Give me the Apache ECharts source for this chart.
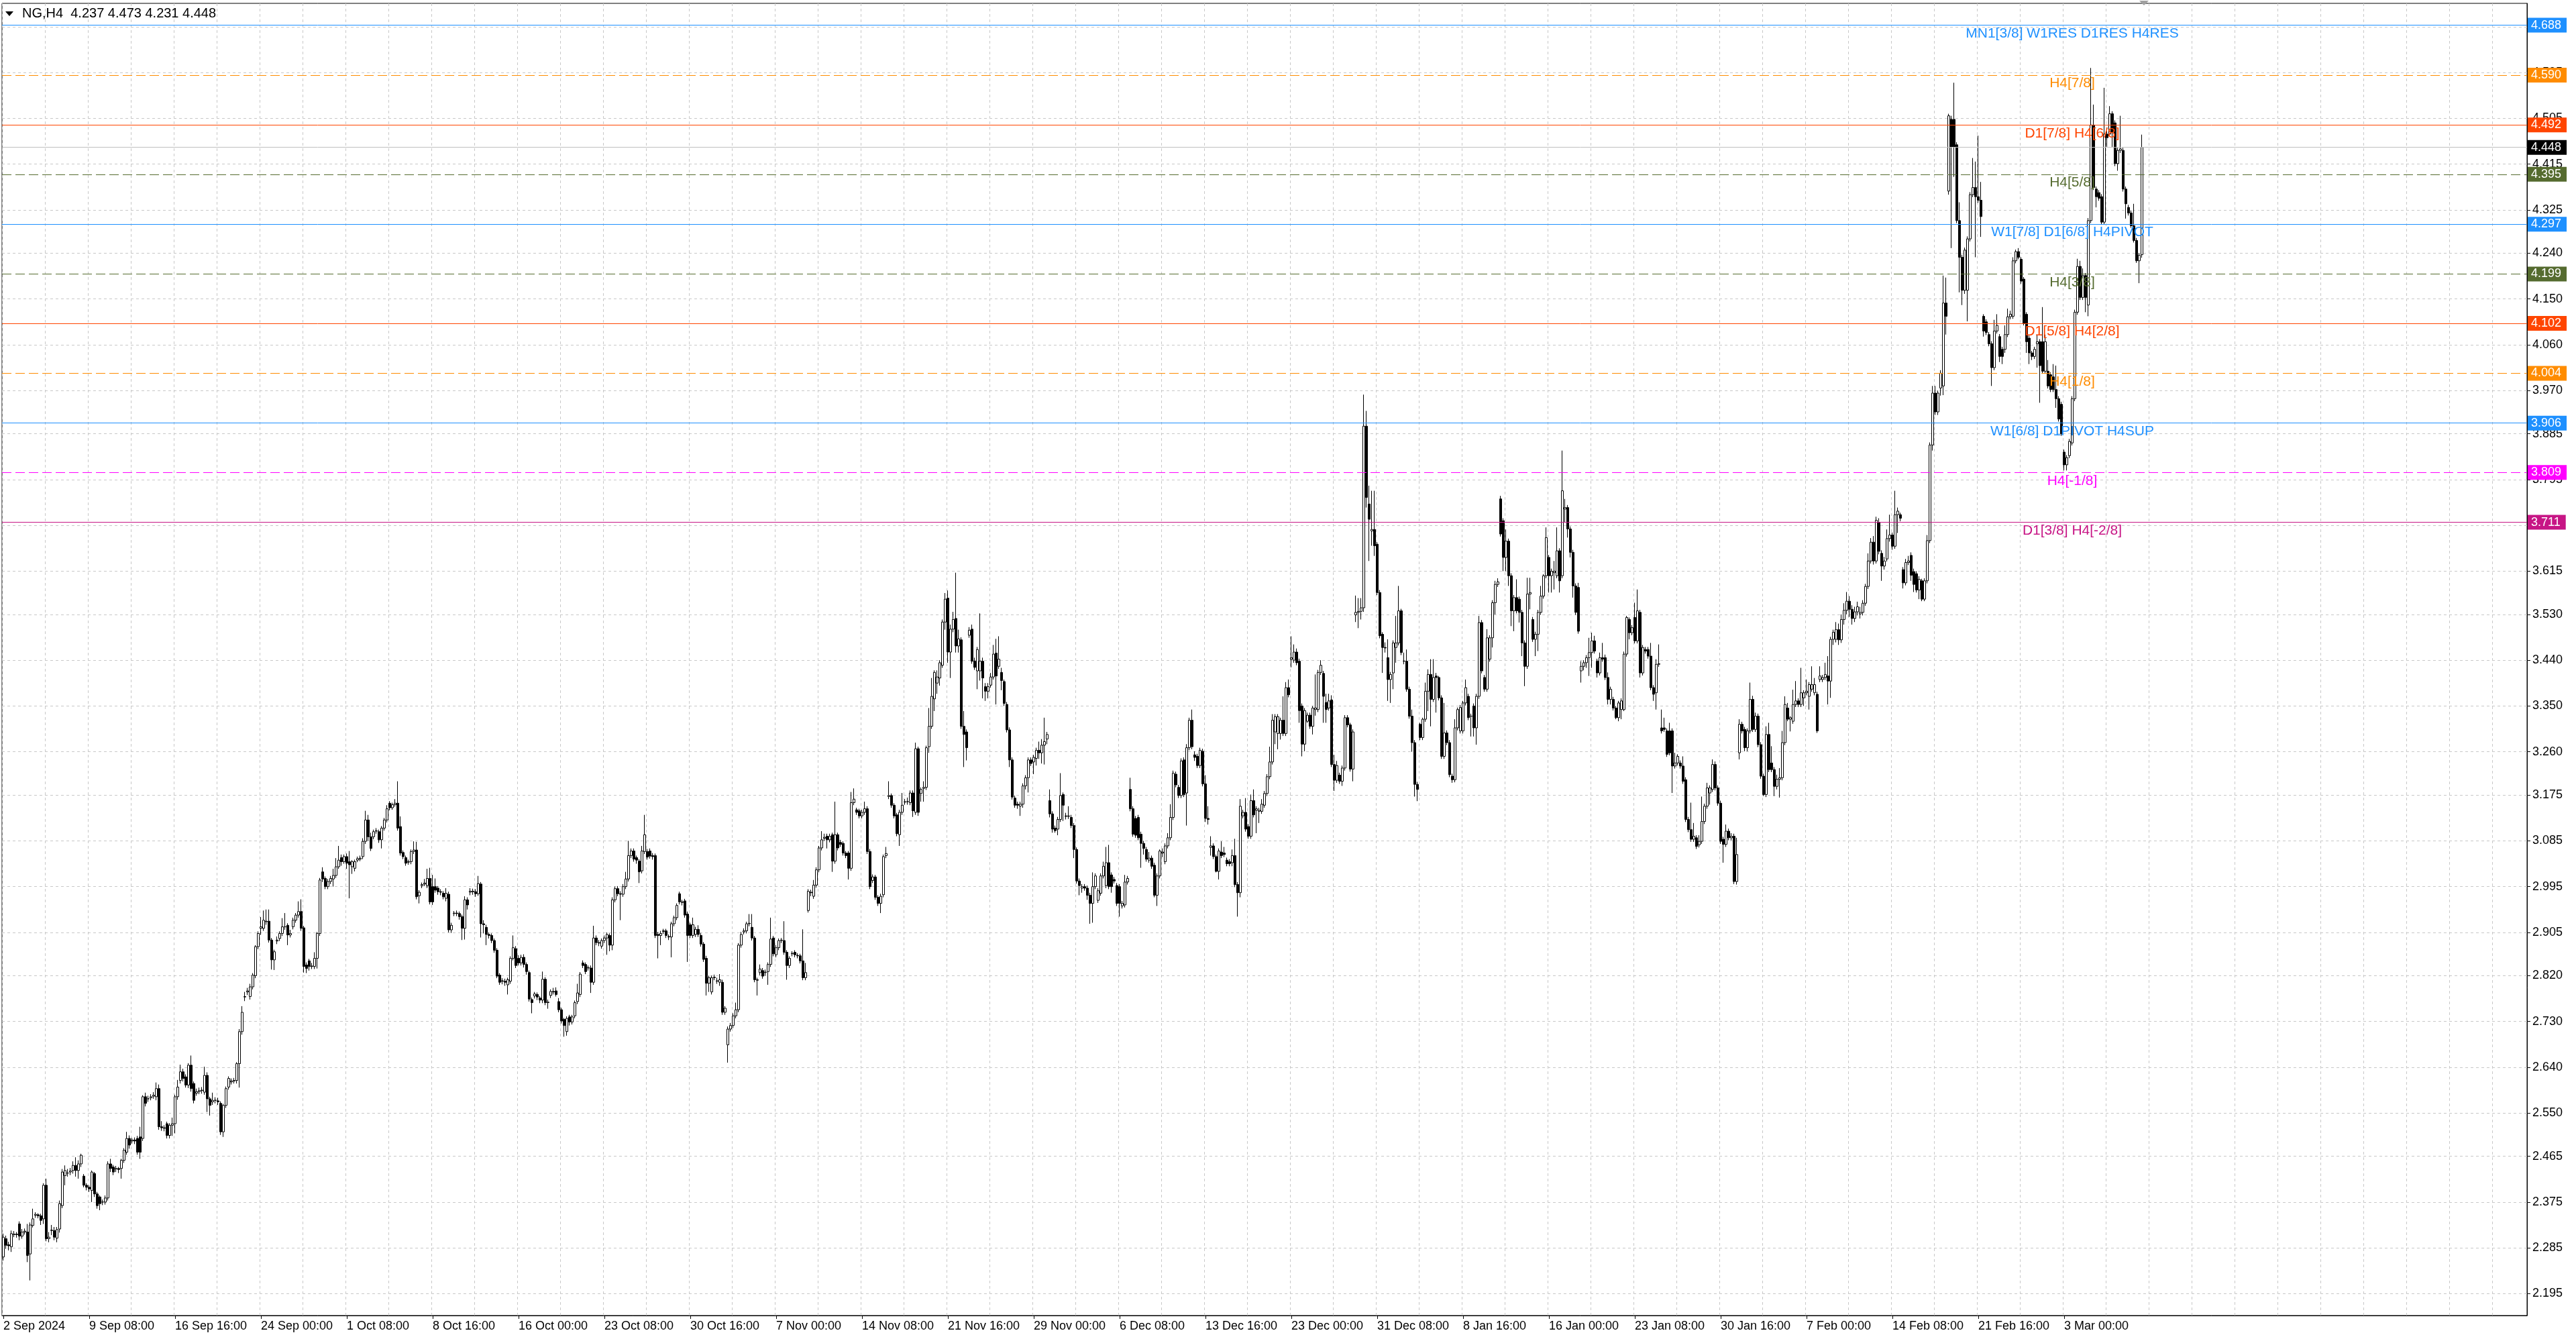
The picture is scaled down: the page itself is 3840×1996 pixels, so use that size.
<!DOCTYPE html>
<html><head><meta charset="utf-8">
<script src="https://cdn.jsdelivr.net/npm/echarts@6/dist/echarts.min.js"></script>
<style>html,body{margin:0;padding:0;background:#fff;overflow:hidden}#c{width:3840px;height:1996px}</style>
</head><body><div id="c"></div>
<script>
const symbolName = 'NG,H4';
const xTickLabels = ['2 Sep 2024','9 Sep 08:00','16 Sep 16:00','24 Sep 00:00','1 Oct 08:00','8 Oct 16:00','16 Oct 00:00','23 Oct 08:00','30 Oct 16:00','7 Nov 00:00','14 Nov 08:00','21 Nov 16:00','29 Nov 00:00','6 Dec 08:00','13 Dec 16:00','23 Dec 00:00','31 Dec 08:00','8 Jan 16:00','16 Jan 00:00','23 Jan 08:00','30 Jan 16:00','7 Feb 00:00','14 Feb 08:00','21 Feb 16:00','3 Mar 00:00'];
const yTickValues = [4.685,4.595,4.505,4.415,4.325,4.240,4.150,4.060,3.970,3.885,3.795,3.705,3.615,3.530,3.440,3.350,3.260,3.175,3.085,2.995,2.905,2.820,2.730,2.640,2.550,2.465,2.375,2.285,2.195];
const levelValues = [4.688,4.590,4.492,4.395,4.297,4.199,4.102,4.004,3.906,3.809,3.711];
const levelNames = ['MN1[3/8] W1RES D1RES H4RES','H4[7/8]','D1[7/8] H4[6/8]','H4[5/8]','W1[7/8] D1[6/8] H4PIVOT','H4[3/8]','D1[5/8] H4[2/8]','H4[1/8]','W1[6/8] D1PIVOT H4SUP','H4[-1/8]','D1[3/8] H4[-2/8]'];
// [open, close, low, high] per H4 bar
const candles = [
[2.267,2.306,2.260,2.313],[2.303,2.290,2.283,2.309],[2.291,2.289,2.280,2.297],[2.287,2.313,2.277,2.319],[2.311,2.312,2.306,2.318],[2.312,2.311,2.305,2.316],[2.332,2.308,2.300,2.337],[2.308,2.316,2.303,2.322],
[2.316,2.318,2.311,2.323],[2.316,2.270,2.257,2.332],[2.273,2.330,2.221,2.335],[2.329,2.342,2.325,2.362],[2.349,2.351,2.344,2.355],[2.350,2.348,2.343,2.353],[2.348,2.339,2.330,2.352],[2.342,2.408,2.332,2.412],
[2.408,2.303,2.298,2.421],[2.303,2.306,2.296,2.316],[2.319,2.320,2.310,2.330],[2.319,2.306,2.300,2.326],[2.304,2.321,2.296,2.326],[2.322,2.372,2.315,2.378],[2.368,2.434,2.363,2.440],[2.427,2.437,2.408,2.447],
[2.432,2.432,2.425,2.440],[2.434,2.436,2.428,2.442],[2.437,2.447,2.431,2.455],[2.447,2.437,2.425,2.463],[2.437,2.450,2.421,2.457],[2.450,2.467,2.444,2.470],[2.426,2.408,2.404,2.430],[2.408,2.404,2.398,2.412],
[2.404,2.401,2.395,2.408],[2.398,2.434,2.375,2.437],[2.431,2.391,2.385,2.434],[2.391,2.368,2.362,2.395],[2.385,2.372,2.359,2.388],[2.375,2.375,2.369,2.380],[2.375,2.383,2.370,2.388],[2.383,2.450,2.378,2.455],
[2.450,2.441,2.434,2.460],[2.444,2.434,2.428,2.448],[2.440,2.441,2.434,2.446],[2.441,2.439,2.432,2.444],[2.441,2.457,2.421,2.460],[2.457,2.477,2.452,2.481],[2.473,2.500,2.468,2.513],[2.500,2.487,2.480,2.506],
[2.495,2.497,2.490,2.501],[2.497,2.495,2.489,2.502],[2.500,2.473,2.468,2.505],[2.503,2.473,2.460,2.523],[2.500,2.582,2.495,2.585],[2.582,2.569,2.563,2.590],[2.578,2.578,2.572,2.584],[2.580,2.582,2.575,2.587],
[2.583,2.585,2.578,2.591],[2.582,2.598,2.575,2.610],[2.598,2.523,2.517,2.606],[2.523,2.521,2.515,2.534],[2.521,2.520,2.514,2.526],[2.529,2.506,2.500,2.533],[2.506,2.526,2.500,2.530],[2.526,2.529,2.505,2.541],
[2.529,2.582,2.510,2.586],[2.582,2.601,2.576,2.615],[2.614,2.631,2.608,2.645],[2.631,2.618,2.612,2.637],[2.621,2.605,2.600,2.626],[2.605,2.644,2.599,2.648],[2.644,2.598,2.592,2.663],[2.608,2.575,2.569,2.612],
[2.589,2.592,2.584,2.598],[2.592,2.594,2.587,2.600],[2.594,2.595,2.588,2.601],[2.591,2.624,2.586,2.641],[2.624,2.578,2.552,2.630],[2.578,2.565,2.545,2.582],[2.572,2.575,2.566,2.590],[2.575,2.575,2.569,2.581],
[2.574,2.572,2.566,2.580],[2.569,2.513,2.507,2.573],[2.513,2.565,2.503,2.568],[2.565,2.598,2.560,2.602],[2.601,2.618,2.596,2.622],[2.611,2.613,2.606,2.618],[2.613,2.614,2.608,2.619],[2.614,2.647,2.608,2.650],
[2.647,2.710,2.600,2.715],[2.710,2.748,2.704,2.760],[2.778,2.779,2.770,2.788],[2.788,2.790,2.782,2.796],[2.779,2.798,2.773,2.804],[2.798,2.821,2.793,2.825],[2.820,2.877,2.815,2.880],[2.877,2.903,2.872,2.907],
[2.913,2.916,2.900,2.935],[2.913,2.929,2.908,2.948],[2.926,2.927,2.920,2.950],[2.927,2.890,2.885,2.950],[2.890,2.851,2.832,2.894],[2.851,2.867,2.831,2.871],[2.888,2.890,2.882,2.897],[2.893,2.903,2.888,2.907],
[2.903,2.916,2.898,2.933],[2.916,2.916,2.910,2.943],[2.919,2.900,2.880,2.923],[2.900,2.903,2.895,2.910],[2.916,2.929,2.911,2.934],[2.929,2.939,2.924,2.943],[2.939,2.946,2.934,2.966],[2.946,2.913,2.908,2.970],
[2.914,2.838,2.826,2.918],[2.841,2.834,2.825,2.846],[2.849,2.838,2.830,2.853],[2.838,2.839,2.833,2.845],[2.838,2.854,2.833,2.866],[2.854,2.903,2.834,2.906],[2.903,3.008,2.898,3.012],[3.024,3.010,3.004,3.033],
[3.011,2.995,2.990,3.015],[2.995,3.005,2.990,3.010],[3.005,3.011,3.000,3.016],[3.010,3.017,2.995,3.030],[3.017,3.034,3.012,3.051],[3.034,3.047,3.030,3.075],[3.052,3.044,3.036,3.058],[3.044,3.054,3.040,3.058],
[3.054,3.041,3.030,3.060],[3.044,3.038,2.972,3.065],[3.034,3.044,3.020,3.047],[3.031,3.044,3.025,3.048],[3.047,3.050,3.043,3.054],[3.049,3.051,3.045,3.056],[3.054,3.084,3.049,3.090],[3.084,3.126,3.079,3.144],
[3.126,3.093,3.085,3.136],[3.093,3.070,3.065,3.101],[3.093,3.103,3.088,3.107],[3.104,3.105,3.099,3.110],[3.103,3.087,3.081,3.107],[3.087,3.110,3.070,3.114],[3.110,3.126,3.105,3.130],[3.126,3.148,3.121,3.155],
[3.159,3.150,3.145,3.163],[3.150,3.156,3.146,3.160],[3.156,3.159,3.152,3.167],[3.159,3.110,3.105,3.202],[3.113,3.061,3.056,3.133],[3.062,3.054,3.049,3.066],[3.052,3.041,3.036,3.056],[3.043,3.044,3.038,3.048],
[3.044,3.064,3.039,3.068],[3.064,3.067,3.059,3.084],[3.067,2.975,2.970,3.083],[2.977,2.984,2.962,2.988],[2.997,2.999,2.992,3.003],[3.000,3.002,2.996,3.010],[2.997,3.011,2.992,3.030],[3.011,2.965,2.960,3.032],
[2.995,2.965,2.959,3.018],[2.995,2.988,2.983,3.011],[2.992,2.985,2.979,2.996],[2.985,2.984,2.978,2.990],[2.982,2.975,2.970,2.986],[2.972,2.982,2.966,2.992],[2.980,2.910,2.905,2.985],[2.910,2.919,2.904,2.924],
[2.942,2.943,2.937,2.947],[2.943,2.942,2.937,2.948],[2.942,2.936,2.930,2.946],[2.936,2.913,2.890,2.940],[2.913,2.969,2.891,2.976],[2.969,2.959,2.950,2.974],
[2.984,2.986,2.978,2.992],[2.986,2.985,2.979,2.991],[2.985,2.981,2.975,2.990],[2.981,3.001,2.977,3.016],[3.000,2.922,2.895,3.004],[2.922,2.920,2.903,2.929],[2.915,2.901,2.880,2.920],[2.901,2.899,2.893,2.905],
[2.899,2.889,2.884,2.903],[2.889,2.870,2.865,2.893],[2.870,2.819,2.815,2.874],[2.821,2.807,2.802,2.825],[2.810,2.809,2.803,2.815],[2.809,2.807,2.800,2.814],[2.802,2.812,2.783,2.816],[2.809,2.854,2.804,2.858],
[2.854,2.875,2.850,2.899],[2.873,2.840,2.835,2.878],[2.854,2.845,2.840,2.860],[2.845,2.856,2.840,2.861],[2.856,2.842,2.836,2.862],[2.842,2.828,2.822,2.846],[2.826,2.774,2.769,2.830],[2.773,2.767,2.746,2.777],
[2.780,2.784,2.775,2.788],[2.783,2.778,2.772,2.787],[2.776,2.772,2.766,2.780],[2.772,2.813,2.766,2.828],[2.813,2.767,2.762,2.817],[2.767,2.768,2.755,2.773],[2.781,2.789,2.776,2.793],[2.789,2.788,2.783,2.796],
[2.790,2.783,2.779,2.797],[2.769,2.753,2.748,2.776],[2.753,2.731,2.726,2.757],[2.734,2.722,2.700,2.737],[2.710,2.736,2.702,2.740],[2.739,2.729,2.722,2.743],[2.729,2.739,2.724,2.743],[2.741,2.767,2.736,2.771],
[2.769,2.786,2.764,2.804],[2.783,2.823,2.778,2.827],[2.845,2.840,2.835,2.850],[2.842,2.828,2.823,2.846],[2.835,2.836,2.830,2.840],[2.835,2.807,2.786,2.840],[2.807,2.894,2.802,2.918],[2.894,2.885,2.880,2.899],
[2.885,2.884,2.878,2.890],[2.878,2.889,2.873,2.893],[2.889,2.894,2.884,2.899],[2.894,2.901,2.861,2.905],[2.899,2.880,2.868,2.903],[2.880,2.969,2.870,2.974],[2.969,2.991,2.964,2.995],[2.991,2.981,2.976,2.996],
[2.981,2.980,2.929,2.986],[2.980,2.995,2.975,3.000],[2.995,3.010,2.990,3.024],[3.010,3.056,3.005,3.085],[3.056,3.065,3.051,3.070],[3.065,3.049,3.044,3.070],[3.052,3.047,3.040,3.056],[3.045,3.024,3.002,3.049],
[3.026,3.065,3.021,3.075],[3.064,3.097,3.059,3.136],[3.064,3.053,3.048,3.069],[3.065,3.055,3.050,3.070],[3.056,3.054,3.048,3.061],[3.056,2.899,2.894,3.060],[2.901,2.899,2.854,2.906],[2.899,2.903,2.880,2.908],
[2.908,2.907,2.902,2.912],[2.908,2.899,2.894,2.912],[2.897,2.896,2.890,2.901],[2.896,2.922,2.856,2.926],[2.922,2.934,2.917,2.938],[2.934,2.958,2.929,2.962],[2.981,2.965,2.960,2.985],[2.965,2.964,2.958,2.969],
[2.967,2.939,2.934,2.971],[2.941,2.899,2.847,2.946],[2.920,2.899,2.894,2.924],[2.899,2.920,2.894,2.934],[2.901,2.911,2.896,2.916],[2.911,2.901,2.896,2.919],[2.899,2.882,2.877,2.904],[2.882,2.852,2.847,2.886],
[2.854,2.805,2.781,2.859],[2.805,2.816,2.788,2.820],[2.788,2.816,2.783,2.820],[2.816,2.817,2.811,2.822],[2.809,2.810,2.804,2.816],[2.807,2.812,2.800,2.823],[2.807,2.748,2.743,2.812],[2.748,2.756,2.743,2.760],
[2.684,2.715,2.649,2.720],[2.715,2.722,2.710,2.727],[2.722,2.741,2.717,2.746],[2.741,2.753,2.736,2.767],[2.753,2.880,2.748,2.884],[2.880,2.901,2.875,2.906],[2.906,2.908,2.901,2.913],[2.908,2.922,2.903,2.926],
[2.922,2.923,2.917,2.941],[2.915,2.894,2.889,2.941],[2.894,2.812,2.807,2.898],[2.812,2.811,2.781,2.816],[2.826,2.833,2.821,2.842],[2.830,2.819,2.814,2.835],[2.826,2.827,2.820,2.832],[2.828,2.842,2.802,2.846],
[2.842,2.892,2.837,2.934],[2.894,2.863,2.858,2.898],[2.861,2.875,2.856,2.880],[2.875,2.889,2.870,2.893],[2.889,2.890,2.884,2.894],[2.889,2.866,2.861,2.927],[2.866,2.840,2.812,2.870],[2.840,2.854,2.835,2.858],
[2.863,2.864,2.858,2.868],[2.866,2.861,2.856,2.870],[2.860,2.859,2.854,2.864],[2.859,2.849,2.844,2.863],[2.849,2.816,2.811,2.911],[2.816,2.826,2.811,2.845],[2.948,2.986,2.944,2.990],[2.984,2.983,2.976,2.989],
[2.976,2.998,2.971,3.008],[2.998,3.028,2.993,3.033],[3.028,3.071,3.023,3.075],[3.071,3.087,3.066,3.104],[3.090,3.092,3.085,3.099],[3.094,3.087,3.070,3.099],[3.087,3.094,3.082,3.099],[3.097,3.045,3.024,3.101],
[3.045,3.097,3.040,3.162],[3.097,3.071,3.066,3.101],[3.082,3.078,3.073,3.087],[3.080,3.061,3.056,3.084],[3.061,3.056,3.051,3.065],[3.061,3.031,3.009,3.065],[3.031,3.160,3.026,3.181],[3.160,3.167,3.155,3.188],
[3.146,3.141,3.136,3.150],[3.144,3.134,3.129,3.148],[3.134,3.141,3.129,3.146],[3.141,3.148,3.136,3.162],[3.148,3.064,3.059,3.153],[3.064,2.995,2.990,3.069],[3.007,3.014,3.002,3.019],[3.014,2.974,2.969,3.018],
[2.974,2.962,2.957,2.978],[2.962,2.976,2.943,2.981],[2.979,3.054,2.974,3.058],[3.056,3.060,3.051,3.073],[3.172,3.174,3.167,3.202],[3.174,3.155,3.150,3.178],[3.155,3.134,3.129,3.159],[3.136,3.099,3.094,3.140],
[3.097,3.141,3.075,3.146],[3.141,3.155,3.136,3.179],[3.161,3.162,3.156,3.167],[3.162,3.162,3.156,3.170],[3.160,3.179,3.155,3.184],[3.179,3.144,3.132,3.184],[3.141,3.266,3.136,3.278],
[3.266,3.141,3.134,3.270],[3.178,3.186,3.162,3.190],[3.188,3.190,3.162,3.202],[3.190,3.268,3.185,3.272],[3.270,3.310,3.258,3.346],[3.310,3.369,3.305,3.405],[3.364,3.416,3.340,3.420],[3.395,3.407,3.374,3.420],
[3.405,3.435,3.390,3.440],[3.430,3.515,3.425,3.520],[3.515,3.560,3.500,3.572],[3.562,3.456,3.435,3.577],[3.456,3.501,3.405,3.510],[3.501,3.520,3.495,3.535],[3.522,3.468,3.455,3.612],[3.468,3.482,3.455,3.500],
[3.480,3.310,3.305,3.485],[3.310,3.294,3.230,3.340],[3.299,3.268,3.243,3.304],[3.489,3.499,3.484,3.505],[3.501,3.438,3.433,3.510],[3.438,3.426,3.421,3.445],[3.419,3.461,3.383,3.466],[3.419,3.438,3.400,3.532],
[3.438,3.405,3.365,3.445],[3.388,3.379,3.360,3.395],[3.379,3.388,3.365,3.395],[3.391,3.407,3.386,3.415],[3.407,3.452,3.402,3.470],[3.454,3.409,3.353,3.482],[3.428,3.442,3.423,3.487],[3.416,3.400,3.381,3.425],
[3.398,3.355,3.350,3.402],[3.353,3.303,3.298,3.358],[3.303,3.244,3.230,3.308],[3.244,3.171,3.166,3.249],[3.169,3.155,3.150,3.174],[3.157,3.155,3.148,3.162],[3.153,3.157,3.134,3.162],[3.157,3.193,3.150,3.198],
[3.193,3.209,3.186,3.214],[3.209,3.244,3.180,3.249],[3.244,3.237,3.232,3.249],[3.240,3.249,3.216,3.254],[3.247,3.263,3.233,3.268],[3.263,3.258,3.246,3.280],[3.258,3.273,3.237,3.285],[3.273,3.280,3.235,3.327],
[3.285,3.294,3.275,3.299],[3.164,3.138,3.131,3.186],[3.138,3.108,3.101,3.143],[3.110,3.105,3.101,3.115],[3.108,3.127,3.096,3.132],[3.127,3.174,3.122,3.218],[3.176,3.155,3.124,3.180],[3.134,3.133,3.127,3.140],
[3.133,3.134,3.128,3.153],[3.131,3.115,3.110,3.136],[3.115,3.068,3.051,3.120],[3.068,3.006,3.001,3.072],[3.006,2.997,2.978,3.011],[2.992,2.995,2.983,3.000],[2.995,2.992,2.987,3.000],[2.992,2.978,2.969,2.997],
[2.978,2.962,2.922,2.983],[2.962,2.995,2.924,3.023],[2.995,3.016,2.990,3.021],[2.968,2.987,2.963,2.992],[2.982,3.016,2.977,3.021],[3.016,3.035,3.011,3.044],[2.997,3.042,2.992,3.073],[3.042,2.995,2.990,3.077],
[3.018,2.995,2.983,3.023],[3.009,3.006,3.001,3.014],[2.997,2.962,2.957,3.002],[2.995,2.962,2.936,3.000],[2.957,2.962,2.952,2.967],[2.959,3.004,2.954,3.018],[3.004,3.011,2.999,3.016],[3.186,3.148,3.143,3.209],
[3.148,3.098,3.093,3.153],[3.129,3.096,3.091,3.134],[3.131,3.091,3.086,3.136],[3.098,3.080,3.032,3.103],[3.080,3.070,3.058,3.085],[3.068,3.049,3.044,3.073],[3.047,3.051,3.042,3.063],[3.051,3.035,3.030,3.056],
[3.037,2.978,2.974,3.042],[2.978,3.016,2.957,3.021],[3.016,3.065,3.011,3.068],[3.061,3.063,3.053,3.070],[3.044,3.075,3.039,3.080],[3.075,3.091,3.070,3.100],[3.091,3.131,3.086,3.157],[3.131,3.218,3.126,3.223],
[3.216,3.195,3.190,3.221],[3.190,3.174,3.169,3.195],[3.174,3.242,3.169,3.247],[3.244,3.176,3.171,3.249],[3.179,3.268,3.115,3.275],[3.268,3.322,3.263,3.327],[3.322,3.270,3.265,3.343],[3.254,3.249,3.242,3.261],
[3.251,3.233,3.228,3.256],[3.233,3.263,3.228,3.268],[3.261,3.197,3.192,3.266],[3.197,3.129,3.122,3.214],[3.129,3.127,3.117,3.153],[3.072,3.075,3.056,3.094],[3.075,3.054,3.049,3.080],[3.054,3.025,3.023,3.058],
[3.025,3.065,3.009,3.070],[3.063,3.056,3.051,3.084],[3.061,3.058,3.053,3.073],[3.047,3.040,3.035,3.052],[3.044,3.040,3.035,3.049],[3.042,3.056,3.035,3.068],[3.056,2.999,2.994,3.089],[2.999,2.983,2.936,3.004],
[2.983,3.153,2.974,3.167],[3.134,3.141,3.129,3.146],[3.141,3.108,3.103,3.169],[3.113,3.094,3.089,3.118],[3.094,3.164,3.089,3.176],[3.164,3.136,3.131,3.186],[3.145,3.148,3.100,3.153],[3.143,3.145,3.120,3.150],
[3.143,3.157,3.138,3.167],[3.155,3.178,3.150,3.183],[3.178,3.211,3.173,3.216],[3.211,3.240,3.206,3.270],[3.240,3.322,3.235,3.334],[3.299,3.329,3.275,3.334],[3.296,3.329,3.265,3.334],[3.296,3.322,3.284,3.327],
[3.322,3.296,3.291,3.369],[3.296,3.386,3.291,3.397],[3.386,3.372,3.367,3.402],[3.442,3.445,3.426,3.487],[3.440,3.456,3.435,3.471],[3.456,3.435,3.430,3.463],[3.438,3.341,3.317,3.443],[3.350,3.275,3.251,3.355],
[3.275,3.341,3.261,3.346],[3.320,3.332,3.317,3.337],[3.332,3.310,3.305,3.337],[3.310,3.346,3.294,3.350],[3.343,3.346,3.331,3.412],[3.343,3.416,3.338,3.421],[3.416,3.430,3.411,3.440],[3.414,3.369,3.317,3.419],
[3.357,3.343,3.317,3.374],[3.346,3.360,3.341,3.374],[3.362,3.235,3.230,3.371],[3.235,3.204,3.183,3.254],[3.204,3.233,3.199,3.242],[3.214,3.202,3.197,3.219],[3.202,3.228,3.193,3.233],[3.228,3.327,3.223,3.332],
[3.327,3.313,3.308,3.332],[3.313,3.226,3.221,3.317],[3.226,3.299,3.202,3.304],[3.529,3.534,3.515,3.567],[3.534,3.536,3.503,3.562],[3.536,3.543,3.520,3.562],[3.543,3.900,3.535,3.962],[3.900,3.760,3.740,3.930],
[3.747,3.717,3.635,3.783],[3.694,3.697,3.665,3.773],[3.697,3.665,3.645,3.773],[3.668,3.573,3.568,3.672],
[3.573,3.488,3.483,3.578],[3.491,3.465,3.415,3.495],[3.465,3.464,3.455,3.475],[3.445,3.402,3.360,3.481],[3.402,3.412,3.356,3.417],[3.415,3.474,3.383,3.479],[3.465,3.474,3.435,3.527],[3.474,3.537,3.469,3.586],
[3.537,3.455,3.450,3.541],[3.438,3.438,3.432,3.455],[3.438,3.383,3.378,3.461],[3.383,3.330,3.325,3.388],[3.330,3.278,3.260,3.343],[3.278,3.196,3.172,3.283],[3.196,3.186,3.163,3.201],[3.314,3.288,3.283,3.317],
[3.288,3.324,3.283,3.327],[3.324,3.379,3.319,3.396],[3.379,3.412,3.340,3.422],[3.412,3.363,3.310,3.442],[3.363,3.406,3.358,3.442],[3.409,3.406,3.337,3.415],[3.406,3.366,3.361,3.409],[3.366,3.251,3.246,3.371],
[3.251,3.297,3.246,3.356],[3.297,3.278,3.273,3.302],[3.278,3.215,3.210,3.283],[3.212,3.205,3.199,3.217],[3.205,3.307,3.200,3.324],[3.307,3.343,3.302,3.347],[3.301,3.347,3.296,3.352],[3.301,3.356,3.296,3.360],
[3.356,3.386,3.351,3.402],[3.369,3.327,3.322,3.374],[3.330,3.330,3.290,3.335],[3.350,3.307,3.290,3.355],[3.307,3.369,3.274,3.374],[3.369,3.514,3.364,3.527],[3.514,3.419,3.414,3.519],[3.406,3.383,3.378,3.411],
[3.383,3.484,3.378,3.501],[3.442,3.484,3.437,3.489],[3.484,3.553,3.465,3.558],[3.553,3.589,3.530,3.596],[3.589,3.594,3.584,3.601],[3.757,3.688,3.683,3.763],[3.714,3.642,3.615,3.719],[3.642,3.674,3.615,3.697],
[3.674,3.606,3.586,3.679],[3.606,3.537,3.507,3.611],[3.537,3.563,3.497,3.568],[3.563,3.537,3.532,3.599],[3.560,3.534,3.514,3.565],[3.534,3.474,3.448,3.539],[3.474,3.428,3.389,3.479],[3.428,3.570,3.423,3.602],
[3.570,3.573,3.540,3.602],[3.520,3.481,3.476,3.525],[3.481,3.491,3.448,3.496],[3.491,3.534,3.458,3.539],[3.534,3.566,3.529,3.586],[3.566,3.606,3.561,3.609],[3.606,3.681,3.601,3.701],[3.642,3.606,3.573,3.647],
[3.606,3.615,3.573,3.620],[3.612,3.615,3.579,3.635],[3.606,3.655,3.601,3.701],[3.655,3.596,3.573,3.660],[3.606,3.773,3.601,3.852],[3.737,3.740,3.711,3.757],[3.740,3.698,3.681,3.745],[3.698,3.652,3.642,3.703],
[3.652,3.586,3.563,3.657],[3.586,3.534,3.529,3.591],[3.583,3.497,3.492,3.592],[3.419,3.428,3.396,3.438],[3.428,3.435,3.420,3.440],[3.435,3.445,3.425,3.450],[3.445,3.455,3.409,3.484],[3.455,3.478,3.425,3.494],
[3.478,3.458,3.453,3.488],[3.438,3.415,3.406,3.443],[3.415,3.445,3.410,3.455],[3.445,3.442,3.437,3.474],[3.445,3.406,3.401,3.451],[3.406,3.363,3.353,3.416],[3.363,3.383,3.353,3.388],[3.363,3.346,3.341,3.368],
[3.346,3.327,3.324,3.350],[3.327,3.356,3.320,3.360],[3.343,3.360,3.324,3.365],[3.343,3.452,3.340,3.457],[3.452,3.524,3.447,3.527],[3.520,3.494,3.481,3.524],[3.494,3.504,3.489,3.509],[3.524,3.478,3.473,3.553],
[3.478,3.537,3.473,3.579],[3.534,3.415,3.406,3.539],[3.415,3.465,3.410,3.470],[3.461,3.458,3.453,3.466],[3.461,3.448,3.443,3.466],[3.448,3.386,3.381,3.474],[3.386,3.373,3.360,3.391],[3.376,3.432,3.343,3.442],
[3.432,3.433,3.427,3.471],[3.307,3.301,3.296,3.343],[3.307,3.304,3.299,3.327],[3.301,3.255,3.250,3.306],[3.301,3.258,3.253,3.317],[3.301,3.232,3.179,3.306],[3.232,3.238,3.227,3.258],[3.238,3.251,3.233,3.255],
[3.238,3.232,3.227,3.243],[3.232,3.202,3.197,3.251],[3.205,3.127,3.122,3.210],[3.127,3.107,3.102,3.132],[3.107,3.088,3.083,3.160],[3.088,3.094,3.083,3.120],[3.091,3.074,3.069,3.096],[3.077,3.084,3.072,3.096],
[3.084,3.123,3.079,3.172],[3.123,3.153,3.118,3.158],[3.153,3.189,3.148,3.199],[3.179,3.189,3.156,3.194],[3.186,3.235,3.181,3.245],[3.235,3.189,3.184,3.241],[3.189,3.159,3.154,3.194],[3.159,3.084,3.079,3.164],
[3.088,3.078,3.042,3.093],[3.078,3.104,3.073,3.117],[3.104,3.091,3.086,3.109],[3.091,3.094,3.086,3.100],[3.094,3.005,3.000,3.099],[3.005,3.058,2.999,3.091],[3.258,3.314,3.245,3.324],[3.314,3.301,3.296,3.319],
[3.304,3.268,3.261,3.309],[3.268,3.301,3.261,3.306],[3.301,3.363,3.296,3.396],[3.363,3.304,3.299,3.370],[3.304,3.330,3.299,3.337],[3.330,3.274,3.269,3.335],[3.274,3.212,3.207,3.279],[3.212,3.176,3.173,3.217],
[3.176,3.294,3.171,3.310],[3.294,3.225,3.220,3.317],[3.238,3.225,3.220,3.271],[3.225,3.192,3.173,3.230],[3.192,3.206,3.186,3.215],[3.206,3.209,3.170,3.228],[3.209,3.278,3.204,3.301],[3.278,3.353,3.273,3.369],
[3.346,3.324,3.320,3.356],[3.324,3.327,3.300,3.330],[3.320,3.353,3.315,3.382],[3.353,3.360,3.348,3.399],[3.360,3.353,3.348,3.365],[3.353,3.376,3.348,3.425],[3.366,3.376,3.350,3.381],[3.376,3.379,3.371,3.402],
[3.369,3.392,3.343,3.397],[3.383,3.392,3.378,3.428],[3.376,3.392,3.371,3.405],[3.373,3.301,3.297,3.378],[3.402,3.409,3.397,3.428],[3.402,3.406,3.397,3.411],[3.406,3.412,3.401,3.435],[3.409,3.399,3.353,3.448],
[3.399,3.481,3.366,3.486],[3.481,3.495,3.470,3.500],
[3.481,3.500,3.475,3.515],[3.500,3.480,3.470,3.512],[3.480,3.520,3.474,3.530],[3.520,3.538,3.510,3.552],[3.538,3.556,3.530,3.574],[3.556,3.540,3.525,3.566],[3.540,3.522,3.510,3.548],[3.522,3.535,3.515,3.545],
[3.535,3.545,3.528,3.555],[3.531,3.534,3.522,3.545],[3.534,3.552,3.528,3.558],[3.552,3.585,3.547,3.590],[3.585,3.635,3.580,3.650],[3.635,3.672,3.630,3.680],[3.672,3.635,3.628,3.684],[3.635,3.715,3.630,3.722],
[3.711,3.654,3.648,3.719],[3.650,3.625,3.596,3.656],[3.625,3.635,3.618,3.643],[3.639,3.679,3.634,3.697],[3.679,3.686,3.673,3.726],[3.686,3.664,3.657,3.691],[3.664,3.726,3.659,3.773],[3.726,3.733,3.690,3.740],
[3.726,3.719,3.713,3.730],[3.618,3.592,3.581,3.623],[3.592,3.632,3.587,3.639],[3.632,3.635,3.627,3.645],[3.646,3.607,3.596,3.652],[3.614,3.589,3.574,3.620],[3.610,3.578,3.573,3.615],[3.578,3.599,3.560,3.605],
[3.596,3.560,3.556,3.600],[3.560,3.596,3.556,3.601],[3.596,3.675,3.591,3.686],[3.675,3.863,3.670,3.868],[3.863,3.965,3.852,3.979],[3.965,3.928,3.922,3.979],[3.928,3.965,3.922,3.970],[3.975,4.004,3.960,4.010],
[3.979,4.142,3.961,4.196],[4.142,4.116,4.080,4.192],[4.362,4.510,4.355,4.514],[4.503,4.449,4.250,4.510],[4.503,4.449,4.390,4.575],[4.453,4.304,4.299,4.458],[4.304,4.232,4.163,4.340],[4.232,4.167,4.138,4.237],
[4.167,4.246,4.160,4.251],[4.167,4.268,4.106,4.273],[4.268,4.355,4.263,4.360],[4.355,4.369,4.350,4.427],[4.369,4.351,4.232,4.420],[4.351,4.344,4.339,4.471],[4.344,4.312,4.272,4.380],[4.116,4.087,4.076,4.120],
[4.105,4.084,4.079,4.110],[4.080,4.062,4.057,4.085],[4.062,4.015,3.979,4.067],[4.015,4.087,4.010,4.109],[4.087,4.098,4.082,4.120],[4.076,4.037,4.026,4.081],[4.051,4.037,4.022,4.056],[4.051,4.080,4.044,4.098],
[4.080,4.115,4.075,4.131],[4.115,4.120,4.110,4.127],[4.116,4.225,4.111,4.232],[4.225,4.243,4.220,4.247],[4.243,4.232,4.228,4.250],[4.228,4.185,4.180,4.232],[4.189,4.102,4.098,4.193],[4.120,4.066,4.044,4.124],
[4.073,4.044,4.022,4.078],[4.044,4.037,4.030,4.048],[4.037,4.051,4.032,4.056],[4.062,4.066,4.015,4.080],[4.066,4.019,3.946,4.071],[4.066,4.008,4.003,4.134],[4.008,4.066,4.003,4.080],[4.008,3.979,3.974,4.030],
[4.001,3.972,3.967,4.006],[3.997,3.972,3.967,4.022],[3.972,3.954,3.936,4.019],[3.954,3.914,3.909,3.959],[3.943,3.885,3.881,3.948],[3.849,3.824,3.813,3.854],[3.824,3.838,3.813,3.843],[3.842,3.870,3.837,3.875],
[3.867,3.954,3.862,3.959],[3.954,4.124,3.949,4.129],[4.124,4.214,4.119,4.229],[4.214,4.153,4.148,4.225],[4.153,4.196,4.148,4.210],[4.196,4.153,4.124,4.201],[4.138,4.304,4.116,4.309],[4.304,4.492,4.299,4.604],
[4.492,4.369,4.364,4.532],[4.366,4.351,4.330,4.371],[4.359,4.348,4.343,4.364],[4.351,4.301,4.297,4.356],[4.301,4.474,4.296,4.565],[4.474,4.467,4.449,4.480],[4.474,4.514,4.469,4.529],[4.514,4.478,4.449,4.519],
[4.496,4.416,4.411,4.501],[4.416,4.442,4.402,4.447],[4.442,4.445,4.437,4.510],[4.442,4.366,4.361,4.447],[4.366,4.337,4.308,4.371],[4.330,4.319,4.314,4.335],[4.319,4.294,4.290,4.324],[4.294,4.265,4.261,4.337],
[4.265,4.225,4.221,4.270],[4.225,4.236,4.181,4.240],[4.237,4.448,4.231,4.473]
];

// ---- layout / style (not data) ----
const FONT = '"Liberation Sans", Arial, sans-serif';
const SLOT_COUNT = 941;      // chart slots incl. empty space right of last bar
const LABEL_EVERY = 32;      // bars between time labels
const GRID_EVERY = 16;       // bars between vertical grid lines
const LEVEL_LABEL_SLOT = 771;
const levelStyles = [
  {line:'#1E90FF', box:'#1E90FF', text:'#1E90FF', dash:'solid'},
  {line:'#FF8C00', box:'#FF8C00', text:'#FF8C00', dash:[14,6]},
  {line:'#FF4500', box:'#FF4500', text:'#FF4500', dash:'solid'},
  {line:'#556B2F', box:'#556B2F', text:'#556B2F', dash:[14,6]},
  {line:'#1E90FF', box:'#1E90FF', text:'#1E90FF', dash:'solid'},
  {line:'#556B2F', box:'#556B2F', text:'#556B2F', dash:[14,6]},
  {line:'#FF4500', box:'#FF4500', text:'#FF4500', dash:'solid'},
  {line:'#FF8C00', box:'#FF8C00', text:'#FF8C00', dash:[14,6]},
  {line:'#1E90FF', box:'#1E90FF', text:'#1E90FF', dash:'solid'},
  {line:'#FF00FF', box:'#FF00FF', text:'#FF00FF', dash:[14,6]},
  {line:'#C71585', box:'#C71585', text:'#C71585', dash:'solid'}
];

const categories = Array.from({length: SLOT_COUNT}, (_, i) => i);
const last = candles[candles.length - 1];
const lastClose = last[1];
const fmt = v => v.toFixed(3);
const headerText = symbolName + '  ' + [last[0], last[3], last[2], last[1]].map(fmt).join(' ');
const isLabelSlot = (i) => i % LABEL_EVERY === 0 && i / LABEL_EVERY < xTickLabels.length;

const boxLabel = (v, bg) => ({
  show: true, position: 'end', distance: 1, formatter: fmt(v),
  backgroundColor: bg, color: '#fff', padding: [2, 8, 2, 5],
  fontSize: 18, fontFamily: FONT, lineHeight: 18
});

const markLineData = levelValues.map((v, i) => ({
  yAxis: v,
  lineStyle: {color: levelStyles[i].line, type: levelStyles[i].dash, width: 1},
  label: boxLabel(v, levelStyles[i].box)
}));
markLineData.push({
  yAxis: lastClose,
  lineStyle: {color: '#C0C0C0', type: 'solid', width: 1},
  label: boxLabel(lastClose, '#000')
});

const chart = echarts.init(document.getElementById('c'), null, {renderer: 'canvas'});
chart.setOption({
  animation: false,
  backgroundColor: '#fff',
  grid: {left: 3, right: 73, top: 5, bottom: 35, show: true, borderColor: '#000', borderWidth: 1, backgroundColor: 'transparent'},
  xAxis: {
    type: 'category', data: categories, boundaryGap: true,
    axisLine: {show: true, lineStyle: {color: '#000', width: 1}},
    axisTick: {show: true, alignWithLabel: true, interval: isLabelSlot, length: 5, lineStyle: {color: '#000'}},
    axisLabel: {show: true, interval: isLabelSlot, formatter: (val, idx) => xTickLabels[idx / LABEL_EVERY],
      align: 'left', margin: 7, color: '#000', fontSize: 18, fontFamily: FONT},
    splitLine: {show: true, interval: (i) => i % GRID_EVERY === 0, lineStyle: {color: '#c8c8c8', type: [4, 4], width: 1}}
  },
  yAxis: {
    type: 'value', position: 'right', min: 2.152, max: 4.731,
    axisLine: {show: true, lineStyle: {color: '#000', width: 1}},
    axisTick: {show: true, customValues: yTickValues, length: 5, lineStyle: {color: '#000'}},
    axisLabel: {show: true, customValues: yTickValues, formatter: v => fmt(v), margin: 8, color: '#000', fontSize: 18, fontFamily: FONT},
    splitLine: {show: true, lineStyle: {color: '#c8c8c8', type: [4, 4], width: 1}}
  },
  graphic: [
    {type: 'polygon', shape: {points: [[8, 17], [20, 17], [14, 24]]}, style: {fill: '#000'}, z: 100},
    {type: 'text', left: 33, top: 10, style: {text: headerText, font: '20px ' + FONT, fill: '#000'}, z: 100},
    {type: 'polygon', shape: {points: [[3189, 1], [3203, 1], [3196, 8]]}, style: {fill: '#a0a0a0'}, z: 100}
  ],
  series: [
    {
      type: 'candlestick', data: candles, large: false, barWidth: 3,
      itemStyle: {color: '#fff', color0: '#000', borderColor: '#000', borderColor0: '#000', borderWidth: 1},
      emphasis: {disabled: true},
      markLine: {symbol: ['none', 'none'], silent: true, animation: false, precision: 3, data: markLineData}
    },
    {
      type: 'scatter', symbol: 'circle', symbolSize: 2, silent: true, z: 5,
      itemStyle: {color: 'rgba(0,0,0,0)'},
      labelLayout: {hideOverlap: false},
      data: levelValues.map((v, i) => ({
        value: [LEVEL_LABEL_SLOT, v],
        label: {show: true, position: 'bottom', distance: 1, formatter: levelNames[i],
          color: levelStyles[i].text, fontSize: 21, fontFamily: FONT, opacity: 1}
      }))
    }
  ]
});
</script>
</body></html>
